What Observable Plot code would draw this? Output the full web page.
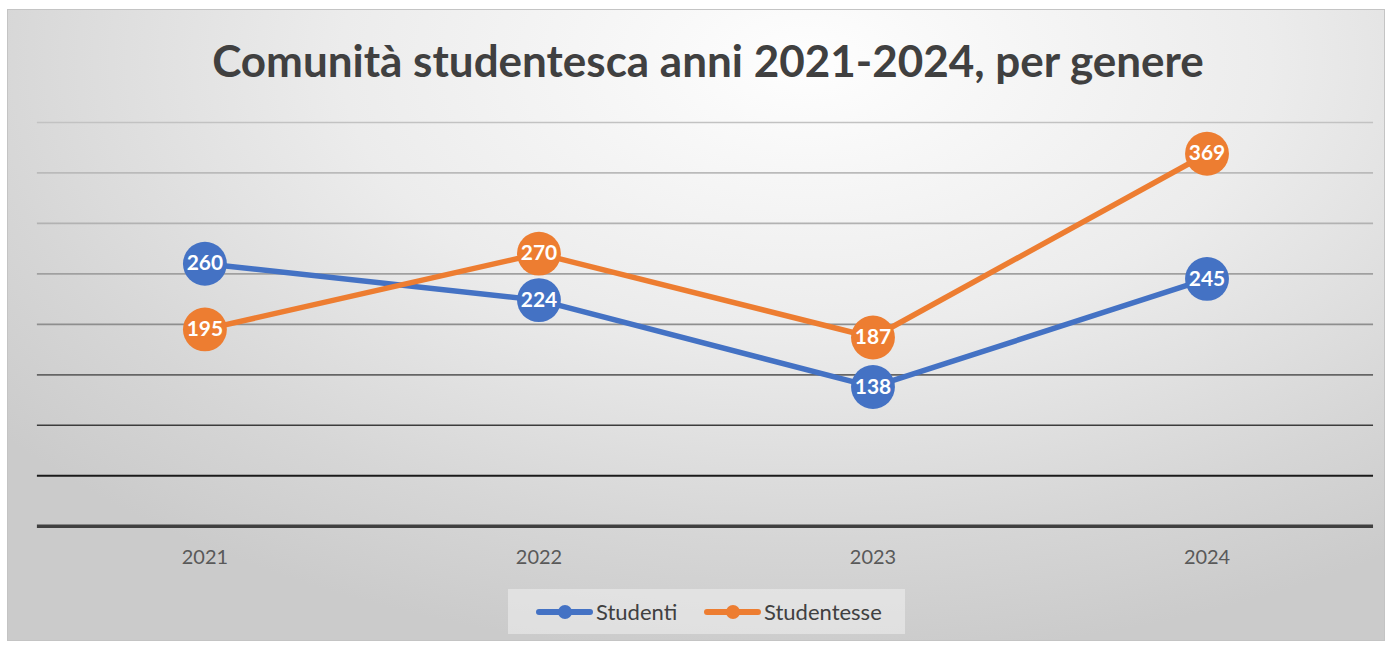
<!DOCTYPE html>
<html>
<head>
<meta charset="utf-8">
<script src="https://cdn.jsdelivr.net/npm/d3@7"></script>
<script src="https://cdn.jsdelivr.net/npm/@observablehq/plot@0.6"></script>
<style>
  html, body { margin: 0; padding: 0; background: #ffffff; }
  body { width: 1388px; height: 645px; position: relative; overflow: hidden; font-family: Lato, "Open Sans", sans-serif; }
  #frame {
    position: absolute; left: 7px; top: 9px; width: 1376px; height: 630px;
    border: 1px solid #c4c4c4;
    background: radial-gradient(ellipse 75% 95% at 58% 8%, #fefefe 0%, #ececec 45%, #d6d6d6 80%, #cbcbcb 100%);
  }
  #title {
    position: absolute; left: -8px; top: 24px; width: 1416px; text-align: center;
    font-family: Lato, "Open Sans", sans-serif; font-weight: 700; font-size: 44px; color: #404040;
  }
  #chart { position: absolute; left: -8px; top: 90px; }
  #legend {
    position: absolute; left: 500px; top: 579px; width: 397px; height: 45px;
    background: rgba(240,240,240,0.55);
  }
  .item { position: absolute; top: 0; height: 45px; display: flex; align-items: center; font-size: 22px; color: #404040; }
  .sw { position: relative; width: 57px; height: 6px; border-radius: 3px; margin-right: 3px; }
  .sw::after { content: ""; position: absolute; left: 22px; top: -4px; width: 14px; height: 14px; border-radius: 7px; background: inherit; }
</style>
</head>
<body>
<div id="frame">
  <div id="title">Comunità studentesca anni 2021-2024, per genere</div>
  <div id="chart"></div>
  <div id="legend"></div>
</div>
<script>
const years = ["2021", "2022", "2023", "2024"];
const seriesNames = ["Studenti", "Studentesse"];
const studenti = [260, 224, 138, 245];
const studentesse = [195, 270, 187, 369];
const yTicks = [50, 100, 150, 200, 250, 300, 350, 400];
const colors = ["#4472c4", "#ed7d31"];

const data = [];
years.forEach((y, i) => {
  data.push({year: y, series: seriesNames[0], value: studenti[i]});
  data.push({year: y, series: seriesNames[1], value: studentesse[i]});
});

const gridColor = d3.scaleLinear().domain([400, 300, 200, 100, 50]).range(["#c2c2c2", "#b2b2b2", "#8e8e8e", "#3c3c3c", "#1a1a1a"]);

const chart = Plot.plot({
  width: 1388,
  height: 470,
  marginLeft: 37,
  marginRight: 11,
  marginTop: 22,
  marginBottom: 43,
  style: {background: "transparent", fontFamily: "Lato, 'Open Sans', sans-serif"},
  x: {type: "point", domain: years, padding: 0.5, label: null, axis: null},
  y: {domain: [0, 400], axis: null},
  color: {domain: seriesNames, range: colors},
  marks: [
    Plot.ruleY(yTicks, {stroke: d => gridColor(d), strokeWidth: d => d <= 50 ? 2 : 1.6}),
    Plot.ruleY([0], {stroke: "#404040", strokeWidth: 3.5}),
    Plot.lineY(data, {x: "year", y: "value", z: "series", stroke: "series", strokeWidth: 5.5, curve: "linear"}),
    Plot.dot(data, {x: "year", y: "value", fill: "series", r: 22, stroke: "none"}),
    Plot.text(data, {x: "year", y: "value", text: d => String(d.value), fill: "white", fontSize: 21, fontWeight: "bold"}),
    Plot.axisX({domain: years, tickSize: 0, tickPadding: 24, fontSize: 20, fill: "#595959", label: null})
  ]
});
document.getElementById("chart").appendChild(chart);

const legend = document.getElementById("legend");
const pos = [28, 196];
seriesNames.forEach((s, i) => {
  const it = document.createElement("div");
  it.className = "item";
  it.style.left = pos[i] + "px";
  const sw = document.createElement("div");
  sw.className = "sw";
  sw.style.background = colors[i];
  it.appendChild(sw);
  const t = document.createElement("span");
  t.textContent = s;
  it.appendChild(t);
  legend.appendChild(it);
});
</script>
</body>
</html>
